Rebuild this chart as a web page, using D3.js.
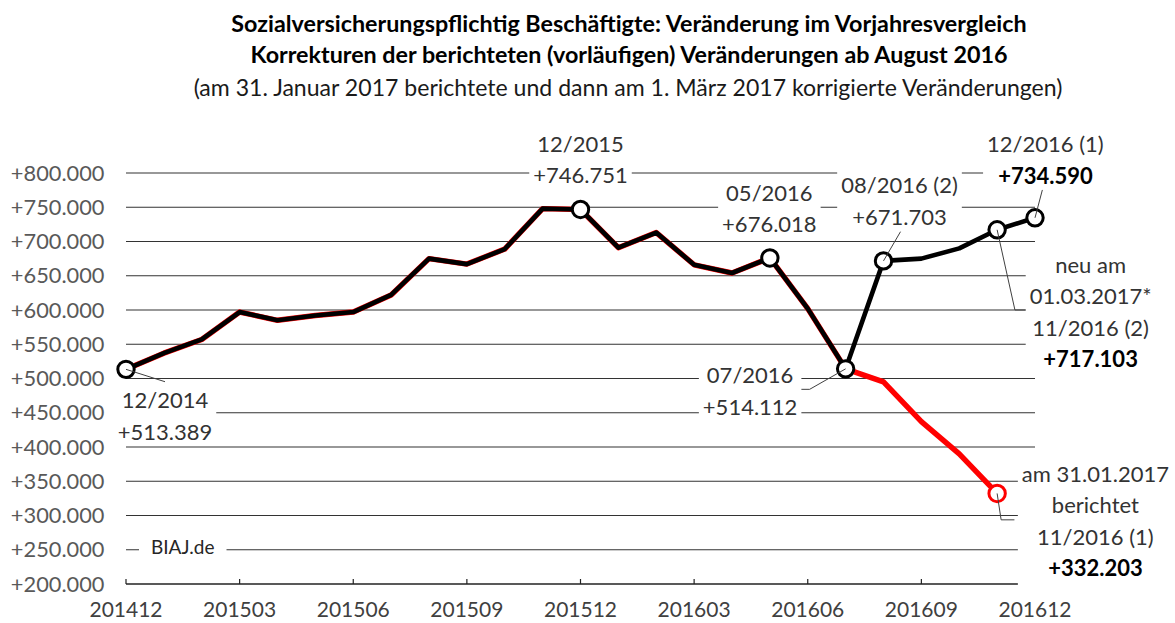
<!DOCTYPE html>
<html><head><meta charset="utf-8">
<script src="https://cdn.jsdelivr.net/npm/d3@7"></script>
<style>body{margin:0;background:#fff;} svg{display:block;font-family:Lato,"Open Sans",sans-serif;}</style>
</head><body><svg id="c" width="1175" height="623"></svg>
<script>
// ---------- data ----------
const months = ["201412","201501","201502","201503","201504","201505","201506","201507","201508","201509","201510","201511","201512",
                "201601","201602","201603","201604","201605","201606","201607","201608","201609","201610","201611","201612"];
const tickMonths = ["201412","201503","201506","201509","201512","201603","201606","201609","201612"];
const yTicks = [200000,250000,300000,350000,400000,450000,500000,550000,600000,650000,700000,750000,800000];
// corrected (reported 01.03.2017), 12/2014 .. 12/2016
const corrected = [513389,537000,557000,597000,585000,592000,597000,622000,675000,667000,689000,748000,746751,
                   691000,713000,666000,654000,676018,602000,514112,671703,675000,690000,717103,734590];
// reported on 31.01.2017, 12/2014 .. 11/2016
const reported  = [513389,537000,557000,597000,585000,592000,597000,622000,675000,667000,689000,748000,746751,
                   691000,713000,666000,654000,676018,602000,514112,495000,437000,390000,332203];
const markedCorrected = ["201412","201512","201605","201607","201608","201611","201612"];
const markedReported = ["201611"];
const titleLines = ["Sozialversicherungspflichtig Beschäftigte: Veränderung im Vorjahresvergleich",
                    "Korrekturen der berichteten (vorläufigen) Veränderungen ab August 2016",
                    "(am 31. Januar 2017 berichtete und dann am 1. März 2017 korrigierte Veränderungen)"];
const source = "BIAJ.de";

// ---------- setup ----------
const svg = d3.select("#c");
const de = d3.formatLocale({decimal:",", thousands:".", grouping:[3], currency:["","€"]});
const fmt = de.format("+,d");
const x = d3.scalePoint().domain(months).range([126, 1035]);
const y = d3.scaleLinear().domain([200000, 800000]).range([584, 173]);

// title
const t1 = svg.append("text").attr("x",629).attr("y",32).attr("text-anchor","middle")
  .attr("font-size",20).attr("font-weight","bold").attr("fill","#000").text(titleLines[0]);
const boldSize = 20*796/t1.node().getComputedTextLength();
t1.attr("font-size", boldSize);
svg.append("text").attr("x",629).attr("y",63).attr("text-anchor","middle")
  .attr("font-size",boldSize).attr("font-weight","bold").attr("fill","#000").text(titleLines[1]);
const t3 = svg.append("text").attr("x",628).attr("y",96).attr("text-anchor","middle")
  .attr("font-size",21).attr("fill","#1a1a1a").text(titleLines[2]);
t3.attr("font-size", 21*869/t3.node().getComputedTextLength());

// gridlines
svg.append("g").selectAll("line").data(yTicks.filter(d=>d>200000)).join("line")
  .attr("x1",x.range()[0]).attr("x2",x.range()[1]).attr("y1",d=>y(d)).attr("y2",d=>y(d))
  .attr("stroke","#333").attr("stroke-width",1.2);

// y labels
svg.append("g").selectAll("text").data(yTicks).join("text")
  .attr("x",104.5).attr("y",d=>y(d)+7.5).attr("text-anchor","end")
  .attr("font-size",21.8).attr("fill","#595959").text(d=>fmt(d));

// x axis
const xa = svg.append("g");
xa.append("line").attr("x1",x.range()[0]).attr("x2",x.range()[1]).attr("y1",y(200000)).attr("y2",y(200000))
  .attr("stroke","#222").attr("stroke-width",1.3);
xa.selectAll("line.t").data(tickMonths).join("line").attr("class","t")
  .attr("x1",d=>x(d)).attr("x2",d=>x(d)).attr("y1",y(200000)).attr("y2",y(200000)-5)
  .attr("stroke","#222").attr("stroke-width",1.2);
xa.selectAll("text").data(tickMonths).join("text")
  .attr("x",d=>x(d)).attr("y",617).attr("text-anchor","middle")
  .attr("font-size",21).attr("fill","#404040").text(d=>d);

// series
const line = d3.line().x(d=>x(d.m)).y(d=>y(d.v));
const corrData = months.map((m,i)=>({m, v:corrected[i]}));
const repData = reported.map((v,i)=>({m:months[i], v}));
svg.append("path").datum(repData).attr("d",line).attr("fill","none")
  .attr("stroke","#ff0000").attr("stroke-width",5.4).attr("stroke-linejoin","round");
svg.append("path").datum(corrData).attr("d",line).attr("fill","none")
  .attr("stroke","#000").attr("stroke-width",4.6).attr("stroke-linejoin","round");

// markers
svg.append("g").selectAll("circle").data(corrData.filter(d=>markedCorrected.includes(d.m))).join("circle")
  .attr("cx",d=>x(d.m)).attr("cy",d=>y(d.v)).attr("r",8.2)
  .attr("fill","#fff").attr("stroke","#000").attr("stroke-width",3);
svg.append("g").selectAll("circle").data(repData.filter(d=>markedReported.includes(d.m))).join("circle")
  .attr("cx",d=>x(d.m)).attr("cy",d=>y(d.v)).attr("r",8.2)
  .attr("fill","#fff").attr("stroke","#ff0000").attr("stroke-width",3);

// callouts (offsets in px relative to point)
const callouts = [
  {data:corrData, m:"201412", pre:[], tag:"", bold:false, dx:39, dy:39, lead:[[39,12.4]]},
  {data:corrData, m:"201512", pre:[], tag:"", bold:false, dx:0, dy:-57.8, lead:null},
  {data:corrData, m:"201605", pre:[], tag:"", bold:false, dx:-0.5, dy:-57, lead:null},
  {data:corrData, m:"201607", pre:[], tag:"", bold:false, dx:-95.5, dy:14.5, lead:[[-36,20.5],[-47.8,20.5]]},
  {data:corrData, m:"201608", pre:[], tag:" (2)", bold:false, dx:16, dy:-67.6, lead:[[17,-29.2]]},
  {data:corrData, m:"201612", pre:[], tag:" (1)", bold:true, dx:10.4, dy:-65.6, lead:[[7.4,-28]]},
  {data:corrData, m:"201611", pre:["neu am","01.03.2017*"], tag:" (2)", bold:true, dx:93.5, dy:43, lead:[[17.8,80.2],[29.3,80.2]]},
  {data:repData, m:"201611", pre:["am 31.01.2017","berichtet"], tag:" (1)", bold:true, dx:98.3, dy:-11.9, lead:[[4,26.4],[17.3,26.4]], padB:9}
];
const leadG = svg.append("g");
const labG = svg.append("g");
const LH = 31.5;
callouts.forEach(c=>{
  const d = c.data.find(e=>e.m===c.m);
  const px = x(d.m), py = y(d.v);
  if (c.lead) {
    const pts = [[px,py]].concat(c.lead.map(p=>[px+p[0], py+p[1]]));
    leadG.append("path").attr("d", d3.line()(pts)).attr("fill","none").attr("stroke","#404040").attr("stroke-width",1);
  }
  const lines = c.pre.map(t=>({t, b:false}))
    .concat([{t: c.m.slice(4)+"/"+c.m.slice(0,4)+c.tag, b:false}, {t: fmt(d.v), b:c.bold}]);
  const g = labG.append("g");
  const rect = g.append("rect").attr("fill","#fff");
  const texts = g.selectAll("text").data(lines).join("text")
    .attr("x", px+c.dx).attr("y",(l,i)=>py+c.dy+i*LH).attr("text-anchor","middle")
    .attr("font-size",22).attr("font-weight",l=>l.b?"bold":"normal").attr("fill",l=>l.b?"#000":"#333")
    .text(l=>l.t);
  let x0=1e9,x1=-1e9;
  texts.each(function(){const b=this.getBBox(); x0=Math.min(x0,b.x); x1=Math.max(x1,b.x+b.width);});
  const top = py+c.dy-24, bot = py+c.dy+(lines.length-1)*LH+(c.padB||6);
  rect.attr("x",x0-4).attr("y",top).attr("width",x1-x0+8).attr("height",bot-top);
});

// source
const sg = svg.append("g");
const sx = x(months[0])+25, sy = y(250000)+4;
const st = sg.append("text").attr("x",sx).attr("y",sy).attr("font-size",19).attr("fill","#262626").text(source);
const sb = st.node().getBBox();
sg.insert("rect","text").attr("x",sb.x-12).attr("y",sb.y).attr("width",sb.width+24).attr("height",sb.height).attr("fill","#fff");
</script></body></html>
